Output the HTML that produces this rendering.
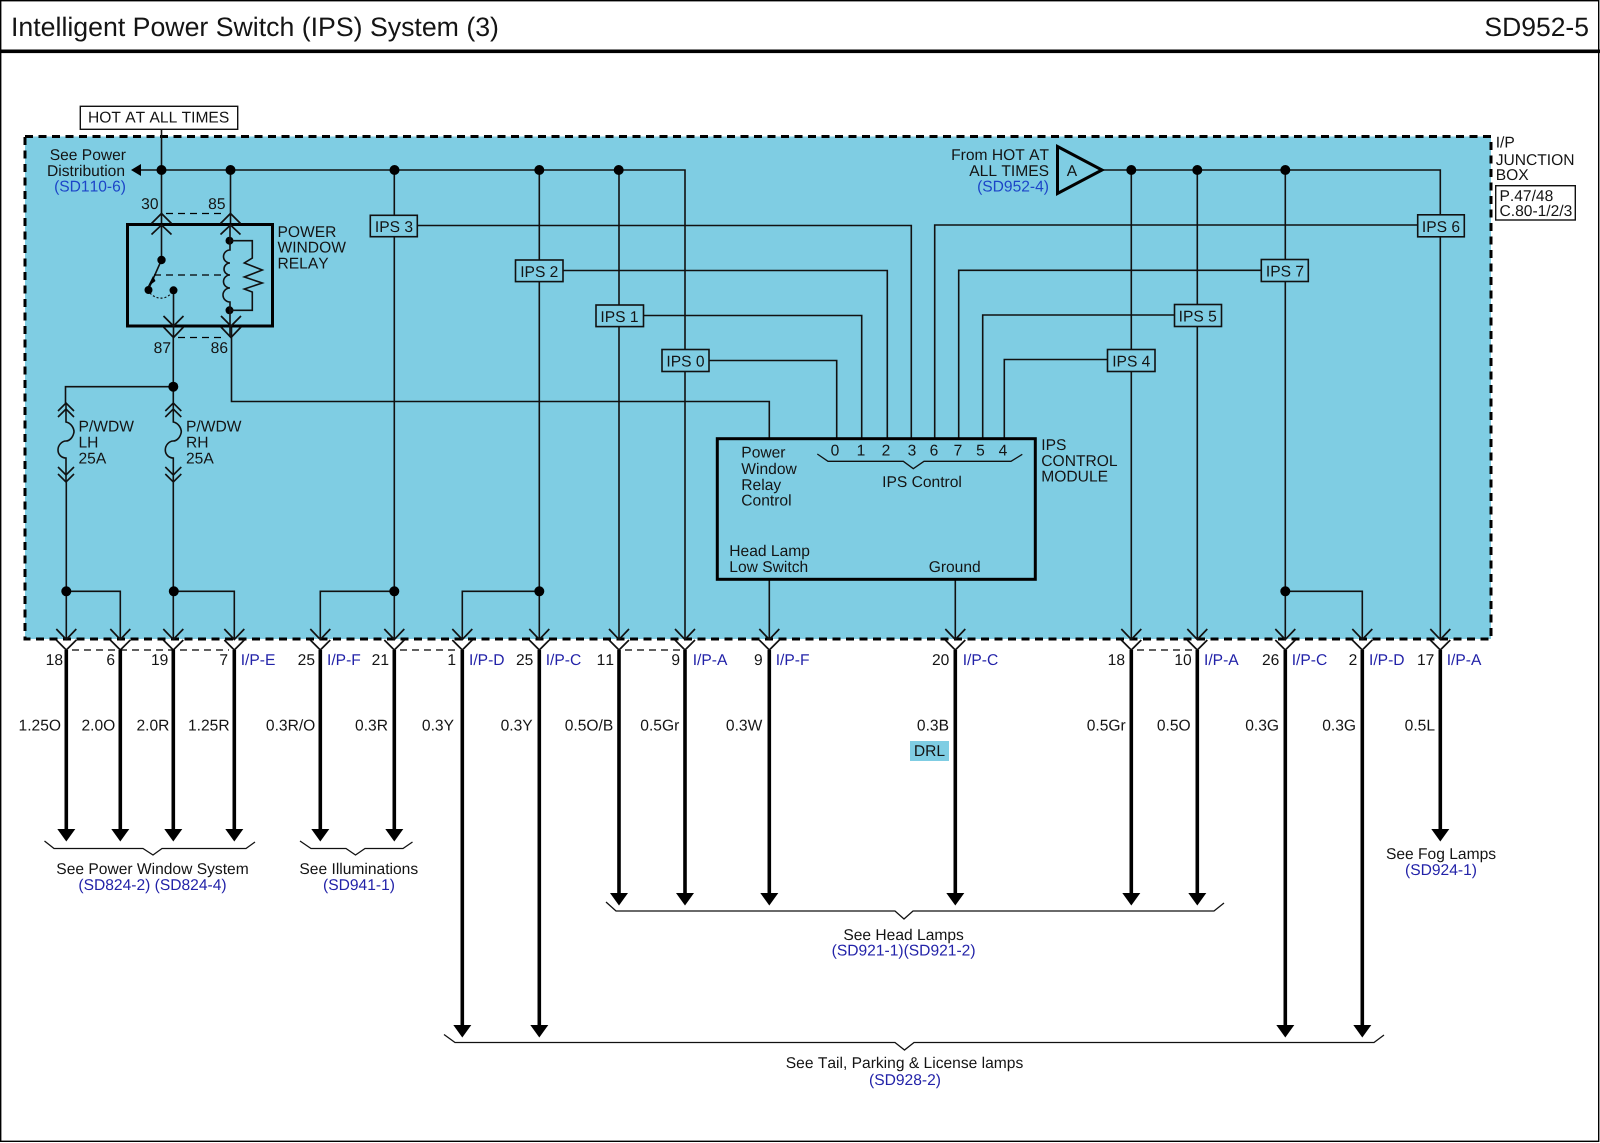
<!DOCTYPE html>
<html><head><meta charset="utf-8"><title>IPS System</title>
<style>
html,body{margin:0;padding:0;background:#fff}
svg{display:block}
text{font-family:"Liberation Sans",sans-serif;font-size:15.6px;fill:#141414;font-kerning:none;text-rendering:geometricPrecision}
.e{text-anchor:end}.m{text-anchor:middle}
.b{fill:#2222a8}.c{fill:#1c45c8}
.w{fill:none;stroke:#111;stroke-width:1.6}
.t{fill:none;stroke:#000;stroke-width:3.6}
.k{fill:none;stroke:#000;stroke-width:3}
.d{fill:none;stroke:#000;stroke-width:1.3;stroke-dasharray:7 5}
.p{fill:#7fcde3;stroke:#111;stroke-width:1.6}
</style></head><body>
<svg xmlns="http://www.w3.org/2000/svg" width="1600" height="1143" viewBox="0 0 1600 1143">
<defs>
<g id="conn" fill="none" stroke="#111" stroke-width="1.7"><path d="M-10,629 L0,639.5 L10,629"/><path d="M-10,640 L0,650 L10,640"/></g>
<circle id="dot" r="5" fill="#000"/>
<path id="ah" d="M-9,0 H9 L0,12.5 Z" fill="#000"/>
<g id="fuse" fill="none" stroke="#111" stroke-width="1.6">
<path d="M-8,411 L0,403 L8,411 M-8,417 L0,409 L8,417"/>
<path d="M0,403 V422 C5,423 8,428 8,432 C7,438 3,441 0,441 C-4,441 -8,445 -8,450 C-8,455 -4,458 0,458 V482"/>
<path d="M-8,467 L0,475 L8,467 M-8,474 L0,482 L8,474"/>
</g>
</defs>

<rect width="1600" height="1143" fill="#fff"/>
<rect x="0.7" y="0.7" width="1598" height="1140.6" fill="none" stroke="#000" stroke-width="1.4"/>
<rect x="0" y="49.5" width="1600" height="3.6" fill="#000"/>
<text x="11" y="36" style="font-size:26.7px">Intelligent Power Switch (IPS) System (3)</text>
<text x="1589" y="36" class="e" style="font-size:26.5px">SD952-5</text>

<!-- junction box -->
<rect x="25" y="136.5" width="1466" height="502.5" fill="#7fcde3"/>
<rect x="25" y="136.5" width="1466" height="502.5" fill="none" stroke="#000" stroke-width="3" stroke-dasharray="8 5.5"/>

<rect x="80.3" y="106.3" width="157.4" height="23" fill="#fff" stroke="#111" stroke-width="1.4"/>
<text x="88" y="122.7">HOT AT ALL TIMES</text>

<!-- rails -->
<path class="w" d="M141,170 H685 V639"/>
<path d="M131,170 L141,164 V176 Z" fill="#000"/>
<path class="w" d="M1102,170 H1440.3 V639"/>
<path class="w" d="M161.5,129.3 V225 M230.5,170 V225 M394.3,170 V639 M539.3,170 V639 M619,170 V639 M1131.3,170 V639 M1197.3,170 V639 M1285.3,170 V639"/>
<use href="#dot" x="161.5" y="170"/><use href="#dot" x="230.5" y="170"/><use href="#dot" x="394.5" y="170"/><use href="#dot" x="539.3" y="170"/><use href="#dot" x="618.7" y="170"/>
<use href="#dot" x="1131.3" y="170"/><use href="#dot" x="1197.3" y="170"/><use href="#dot" x="1285.3" y="170"/>

<!-- control lines -->
<path class="w" d="M417,225.5 H911.3 V439 M563,270.5 H887.3 V439 M644,315.5 H861.7 V439 M709,360.5 H836.7 V439"/>
<path class="w" d="M1418,225 H934.7 V439 M1261,270.3 H958.7 V439 M1174,315 H982.7 V439 M1107,359.5 H1004.3 V439"/>
<path class="w" d="M231.5,326 V401.5 H769.3 V439 M769.3,579 V639 M955.3,579 V639"/>

<!-- IPS boxes -->
<g>
<rect class="p" x="370.3" y="215.3" width="47" height="21.4"/><text class="m" x="394" y="232">IPS 3</text>
<rect class="p" x="515.5" y="260" width="47.5" height="21.6"/><text class="m" x="539.3" y="276.8">IPS 2</text>
<rect class="p" x="596" y="305" width="47.5" height="21.6"/><text class="m" x="619.5" y="321.8">IPS 1</text>
<rect class="p" x="662" y="349.5" width="47" height="22"/><text class="m" x="685.5" y="366.5">IPS 0</text>
<rect class="p" x="1107.5" y="349.5" width="47.5" height="22"/><text class="m" x="1131.3" y="366.5">IPS 4</text>
<rect class="p" x="1174.5" y="304.5" width="47" height="22"/><text class="m" x="1197.7" y="321.5">IPS 5</text>
<rect class="p" x="1261.3" y="259.5" width="47" height="22"/><text class="m" x="1285" y="276.5">IPS 7</text>
<rect class="p" x="1417.7" y="214.8" width="46.6" height="22"/><text class="m" x="1441" y="232">IPS 6</text>
</g>

<!-- Source triangle -->
<path d="M1057.5,146.5 L1102,170 L1057.5,193.5 Z" fill="#7fcde3" stroke="#000" stroke-width="3"/>
<text class="m" x="1072" y="176">A</text>
<text class="e" x="1049" y="160">From HOT AT</text>
<text class="e" x="1049" y="176">ALL TIMES</text>
<text class="e c" x="1049" y="191.7">(SD952-4)</text>

<text class="e" x="126" y="160">See Power</text>
<text class="e" x="125" y="176">Distribution</text>
<text class="e c" x="126" y="191.7">(SD110-6)</text>

<!-- Relay -->
<rect class="k" x="127.5" y="224.5" width="145" height="101.5"/>
<g fill="none" stroke="#111" stroke-width="1.7">
<path d="M151.5,223.5 L161.5,213.5 L171.5,223.5 M151.5,234.5 L161.5,225 L171.5,234.5"/>
<path d="M220.5,223.5 L230.5,213.5 L240.5,223.5 M220.5,234.5 L230.5,225 L240.5,234.5"/>
<path d="M163.5,316 L173.5,326 L183.5,316 M163.5,327 L173.5,337.5 L183.5,327"/>
<path d="M221,316 L231,326 L241,316 M221,327 L231,337.5 L241,327"/>
</g>
<path class="d" d="M166,213.5 H226 M178,337.5 H226"/>
<path class="w" d="M161.5,225 V260 L149.5,287 M173.5,290 V337"/>
<path d="M147.5,287 L153,276 L155.5,281 Z" fill="#000"/>
<path d="M150,293 C156,300 167,300 172,292" fill="none" stroke="#111" stroke-width="1.2" stroke-dasharray="2 2"/>
<path class="d" d="M154,275 H224"/>
<circle cx="161.5" cy="260" r="4.2" fill="#000"/>
<circle cx="148.5" cy="290" r="4" fill="#000"/><circle cx="173.5" cy="290.3" r="4" fill="#000"/>
<circle cx="229.5" cy="240.7" r="4" fill="#000"/><circle cx="229.5" cy="310.3" r="4" fill="#000"/>
<path class="w" d="M230,226 V250 A6.5,6.5 0 0 0 230,263 A6,6 0 0 0 230,275 A6.5,6.5 0 0 0 230,288 A7,7 0 0 0 230,302 V337"/>
<path class="w" d="M230,240.7 H252.3 V258 L244.3,263 L262.3,270 L244.3,277 L262.3,283 L244.3,289 L252.3,292 V310.3 H230"/>
<text class="e" x="158.5" y="209">30</text><text class="e" x="225.5" y="209">85</text>
<text class="e" x="171" y="353">87</text><text class="e" x="228" y="353">86</text>
<text x="277.5" y="237">POWER</text><text x="277.5" y="252.7">WINDOW</text><text x="277.5" y="268.3">RELAY</text>

<!-- Fuses and wires -->
<path class="w" d="M173.3,337 V403 M173.3,386.7 H65.5 V403"/>
<use href="#dot" x="173.3" y="386.7"/>
<use href="#fuse" x="66" y="0"/><use href="#fuse" x="173.3" y="0"/>
<path class="w" d="M66.3,482 V639 M173.3,482 V639 M66.3,591.3 H120.3 V639 M173.3,591.3 H234.3 V639 M394.3,591.3 H320.3 V639 M539.3,591.3 H462.3 V639 M1285.3,591.3 H1362.3 V639"/>
<use href="#dot" x="66.3" y="591.3"/><use href="#dot" x="173.8" y="591.3"/><use href="#dot" x="394.3" y="591.3"/><use href="#dot" x="539.3" y="591.3"/><use href="#dot" x="1285.3" y="591.3"/>
<text x="78.5" y="431.7">P/WDW</text><text x="78.5" y="447.7">LH</text><text x="78.5" y="463.3">25A</text>
<text x="186" y="431.7">P/WDW</text><text x="186" y="447.7">RH</text><text x="186" y="463.3">25A</text>

<!-- Module -->
<rect class="k" x="717.3" y="438.7" width="318" height="140.6"/>
<text x="741.3" y="457.7">Power</text><text x="741.3" y="474">Window</text><text x="741.3" y="490">Relay</text><text x="741.3" y="505.7">Control</text>
<text class="m" x="835" y="455.7">0</text><text class="m" x="861" y="455.7">1</text><text class="m" x="886" y="455.7">2</text><text class="m" x="912" y="455.7">3</text><text class="m" x="934" y="455.7">6</text><text class="m" x="958" y="455.7">7</text><text class="m" x="980.5" y="455.7">5</text><text class="m" x="1003" y="455.7">4</text>
<path class="w" style="stroke-width:1.3" d="M817.3,454 L828,461.3 H903.3 L913.3,468.7 L924,461.3 H1011 L1022.3,454.3"/>
<text class="m" x="922" y="487">IPS Control</text>
<text x="729.3" y="556">Head Lamp</text><text x="729.3" y="572">Low Switch</text><text x="928.7" y="572">Ground</text>
<text x="1041.3" y="450">IPS</text><text x="1041.3" y="466">CONTROL</text><text x="1041.3" y="481.3">MODULE</text>

<text x="1495.7" y="147.3">I/P</text><text x="1495.7" y="165">JUNCTION</text><text x="1495.7" y="180">BOX</text>
<rect x="1495.7" y="185.7" width="79.6" height="34.3" fill="#fff" stroke="#111" stroke-width="1.4"/>
<text x="1499.5" y="201">P.47/48</text><text x="1499.5" y="216">C.80-1/2/3</text>

<!-- Connectors -->
<use href="#conn" x="66.3"/><use href="#conn" x="120.3"/><use href="#conn" x="173.3"/><use href="#conn" x="234.3"/><use href="#conn" x="320.3"/><use href="#conn" x="394.3"/><use href="#conn" x="462.3"/><use href="#conn" x="539.3"/><use href="#conn" x="619"/><use href="#conn" x="685"/><use href="#conn" x="769.3"/><use href="#conn" x="955.3"/><use href="#conn" x="1131.3"/><use href="#conn" x="1197.3"/><use href="#conn" x="1285.3"/><use href="#conn" x="1362.3"/><use href="#conn" x="1440.3"/>
<path class="d" d="M72,650 H229 M400,650 H457 M625,650 H680 M1137,650 H1192"/>

<!-- Thick wires -->
<path class="t" d="M66.3,650 V830 M120.3,650 V830 M173.3,650 V830 M234.3,650 V830 M320.3,650 V830 M394.3,650 V830 M1440.3,650 V830 M619,650 V894 M685,650 V894 M769.3,650 V894 M955.3,650 V894 M1131.3,650 V894 M1197.3,650 V894 M462.3,650 V1026 M539.3,650 V1026 M1285.3,650 V1026 M1362.3,650 V1026"/>
<use href="#ah" x="66.3" y="829"/><use href="#ah" x="120.3" y="829"/><use href="#ah" x="173.3" y="829"/><use href="#ah" x="234.3" y="829"/><use href="#ah" x="320.3" y="829"/><use href="#ah" x="394.3" y="829"/><use href="#ah" x="1440.3" y="829"/>
<use href="#ah" x="619" y="893"/><use href="#ah" x="685" y="893"/><use href="#ah" x="769.3" y="893"/><use href="#ah" x="955.3" y="893"/><use href="#ah" x="1131.3" y="893"/><use href="#ah" x="1197.3" y="893"/>
<use href="#ah" x="462.3" y="1025"/><use href="#ah" x="539.3" y="1025"/><use href="#ah" x="1285.3" y="1025"/><use href="#ah" x="1362.3" y="1025"/>

<!-- Pin numbers -->
<g>
<text class="e" x="63" y="665">18</text><text class="e" x="115" y="665">6</text><text class="e" x="168.3" y="665">19</text><text class="e" x="228" y="665">7</text><text class="b" x="240.7" y="665">I/P-E</text>
<text class="e" x="315" y="665">25</text><text class="b" x="327" y="665">I/P-F</text><text class="e" x="389" y="665">21</text>
<text class="e" x="456" y="665">1</text><text class="b" x="469" y="665">I/P-D</text><text class="e" x="533.3" y="665">25</text><text class="b" x="545.7" y="665">I/P-C</text>
<text class="e" x="614" y="665">11</text><text class="e" x="680" y="665">9</text><text class="b" x="692.7" y="665">I/P-A</text>
<text class="e" x="762.7" y="665">9</text><text class="b" x="775.7" y="665">I/P-F</text>
<text class="e" x="949.3" y="665">20</text><text class="b" x="962.7" y="665">I/P-C</text>
<text class="e" x="1125" y="665">18</text><text class="e" x="1191.7" y="665">10</text><text class="b" x="1204" y="665">I/P-A</text>
<text class="e" x="1279.3" y="665">26</text><text class="b" x="1291.7" y="665">I/P-C</text>
<text class="e" x="1357.3" y="665">2</text><text class="b" x="1369" y="665">I/P-D</text>
<text class="e" x="1434.3" y="665">17</text><text class="b" x="1446.7" y="665">I/P-A</text>
</g>

<!-- Wire specs -->
<g>
<text class="e" x="61" y="730.7">1.25O</text><text class="e" x="115.3" y="730.7">2.0O</text><text class="e" x="169.4" y="730.7">2.0R</text><text class="e" x="229.6" y="730.7">1.25R</text>
<text class="e" x="315.3" y="730.7">0.3R/O</text><text class="e" x="388" y="730.7">0.3R</text><text class="e" x="454" y="730.7">0.3Y</text><text class="e" x="532.7" y="730.7">0.3Y</text>
<text class="e" x="613.3" y="730.7">0.5O/B</text><text class="e" x="679.3" y="730.7">0.5Gr</text><text class="e" x="762.3" y="730.7">0.3W</text><text class="e" x="949" y="730.7">0.3B</text>
<text class="e" x="1125.7" y="730.7">0.5Gr</text><text class="e" x="1190.7" y="730.7">0.5O</text><text class="e" x="1279" y="730.7">0.3G</text><text class="e" x="1356" y="730.7">0.3G</text><text class="e" x="1435" y="730.7">0.5L</text>
</g>
<rect x="910" y="741" width="39" height="20" fill="#7fcde3"/>
<text class="m" x="929.5" y="756">DRL</text>

<!-- Braces -->
<g style="fill:none;stroke:#111;stroke-width:1.3">
<path d="M44.5,841 L54,848.5 H143 L153,855 L162,848.5 H246 L255,842"/>
<path d="M300,841 L311,848.5 H346 L355.5,855 L365,848.5 H403 L412.5,842"/>
<path d="M606,902 L616,911 H895 L904,919 L913,911 H1214 L1224,903"/>
<path d="M444,1034.5 L455,1042.5 H895 L904.5,1050 L914,1042.5 H1374 L1384,1035"/>
</g>
<text class="m" x="152.5" y="874">See Power Window System</text><text class="m b" x="152.5" y="890">(SD824-2) (SD824-4)</text>
<text class="m" x="358.8" y="874">See Illuminations</text><text class="m b" x="359" y="890">(SD941-1)</text>
<text class="m" x="1441" y="859">See Fog Lamps</text><text class="m b" x="1441" y="875">(SD924-1)</text>
<text class="m" x="903.6" y="940">See Head Lamps</text><text class="m b" x="903.6" y="955.5">(SD921-1)(SD921-2)</text>
<text class="m" x="904.5" y="1068">See Tail, Parking &amp; License lamps</text><text class="m b" x="905" y="1085">(SD928-2)</text>
</svg>
</body></html>
